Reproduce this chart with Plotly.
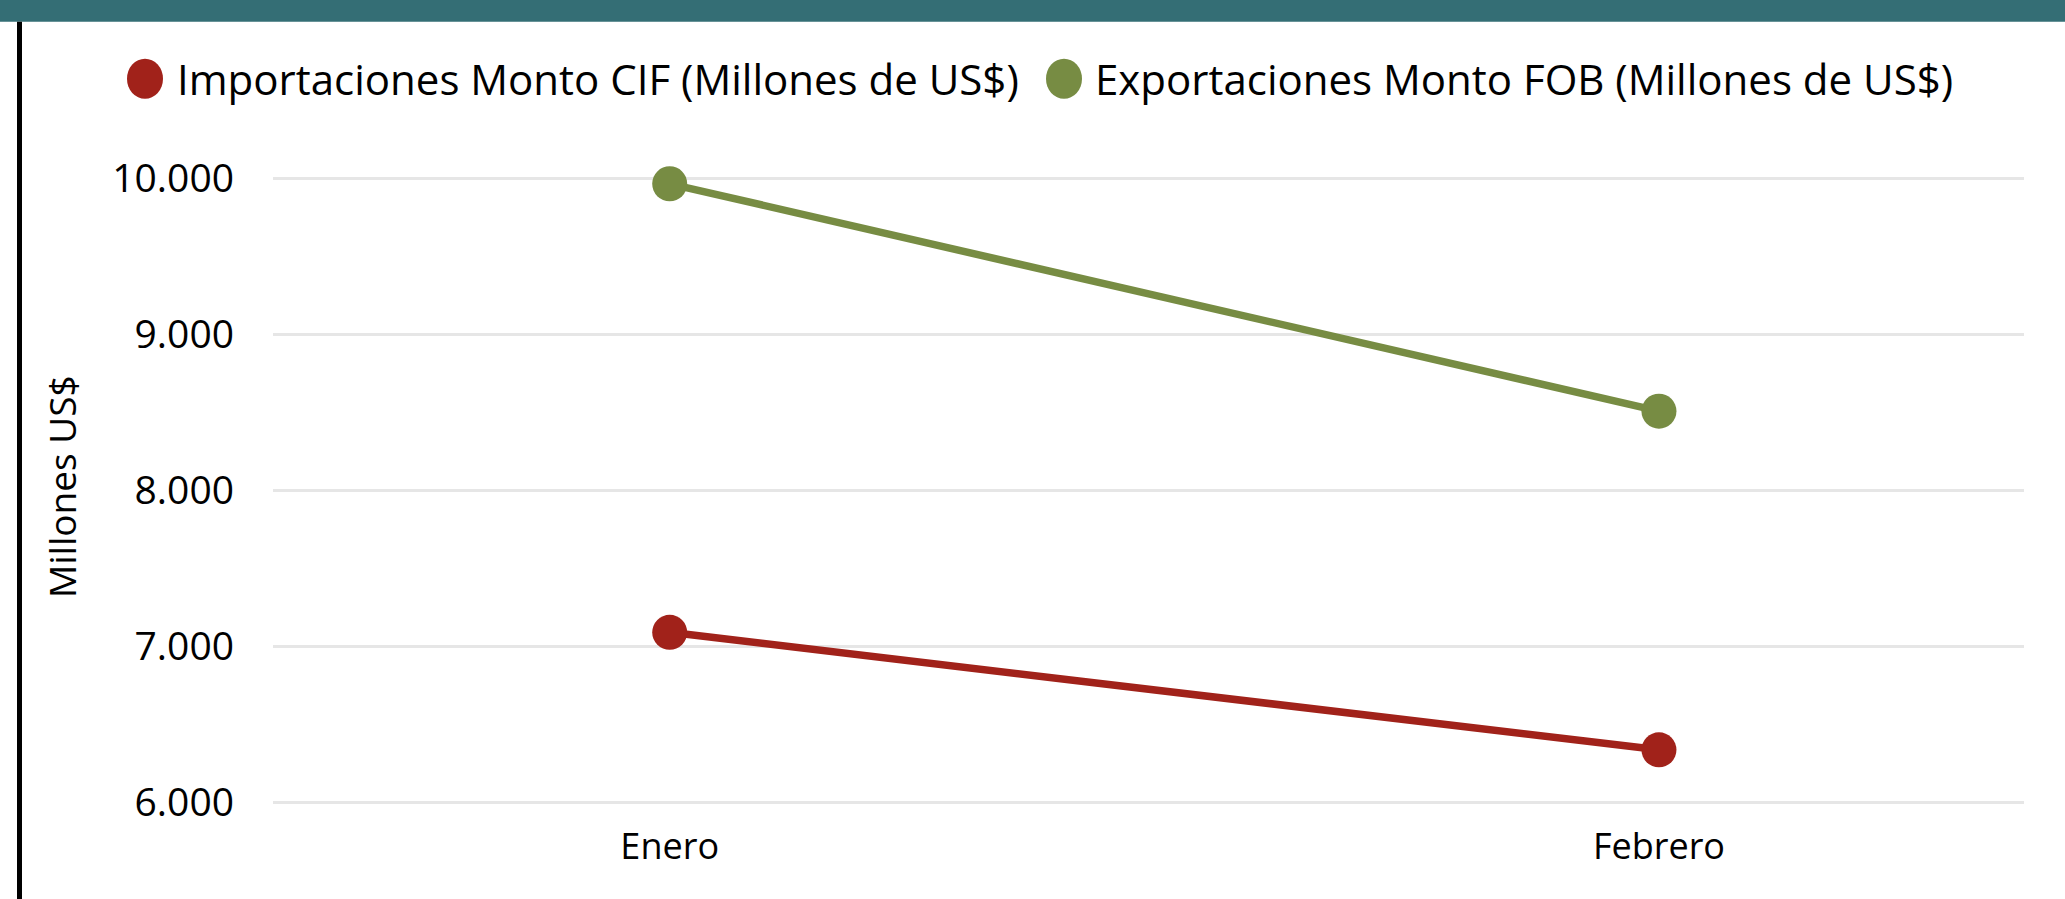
import plotly.graph_objects as go

# ---- data ----
meses = ["Enero", "Febrero"]
importaciones_cif = [7090, 6336]
exportaciones_fob = [9968, 8509]
serie_nombres = ["Importaciones Monto CIF (Millones de US$)",
                 "Exportaciones Monto FOB (Millones de US$)"]
y_ticks = [6000, 7000, 8000, 9000, 10000]

# ---- styles ----
W, H = 2065, 899
Y_LO, Y_HI = 5950, 10050
G_TOP, G_BOT = 179, 802          # pixel rows of 10000 and 6000 gridlines
PPU = (G_BOT - G_TOP) / 4000.0   # pixels per unit
T = G_TOP - (Y_HI - 10000) * PPU
B = G_BOT + (6000 - Y_LO) * PPU
L, R = 273, 2024
RED = "#A1221A"
GREEN = "#778C43"
TEAL = "#346E75"
FONT = "Open Sans"

def px(x):
    return (x - L) / (R - L)

def py(y):
    return (B - y) / (B - T)

fig = go.Figure()
fig.add_trace(go.Scatter(
    x=meses, y=importaciones_cif, mode="lines+markers", name=serie_nombres[0],
    line=dict(color=RED, width=7.5), marker=dict(color=RED, size=35, line=dict(width=0)),
    cliponaxis=False, showlegend=False))
fig.add_trace(go.Scatter(
    x=meses, y=exportaciones_fob, mode="lines+markers", name=serie_nombres[1],
    line=dict(color=GREEN, width=7.5), marker=dict(color=GREEN, size=35, line=dict(width=0)),
    cliponaxis=False, showlegend=False))

shapes = [
    # top teal band
    dict(type="rect", xref="paper", yref="paper", x0=px(-5), x1=px(W + 5), y0=py(22), y1=py(-5),
         fillcolor=TEAL, line=dict(width=0), layer="above"),
    # left black border
    dict(type="rect", xref="paper", yref="paper", x0=px(17), x1=px(22), y0=py(H + 5), y1=py(22),
         fillcolor="black", line=dict(width=0), layer="above"),
]
# manual legend
leg_items = [(145, 175, RED, serie_nombres[0]), (1064, 1093, GREEN, serie_nombres[1])]
annotations = []
for cx, tx, col, name in leg_items:
    rx, ry = 18, 20
    shapes.append(dict(type="circle", xref="paper", yref="paper",
                       x0=px(cx - rx), x1=px(cx + rx), y0=py(79 + ry), y1=py(79 - ry),
                       fillcolor=col, line=dict(width=0)))
    annotations.append(dict(xref="paper", yref="paper", x=px(tx), y=py(79), text=name,
                            showarrow=False, xanchor="left", yanchor="middle",
                            font=dict(family=FONT, size=42, color="black")))
# y axis title
annotations.append(dict(xref="paper", yref="paper", x=px(62), y=py(487), text="Millones US$",
                        textangle=-90, showarrow=False, xanchor="center", yanchor="middle",
                        font=dict(family=FONT, size=37, color="black")))

fig.update_layout(
    width=W, height=H,
    margin=dict(l=L, r=W - R, t=T, b=H - B, pad=0),
    paper_bgcolor="white", plot_bgcolor="white",
    separators=",.",
    shapes=shapes, annotations=annotations,
    xaxis=dict(type="category", range=[-0.401, 1.369], showgrid=False, showline=False,
               zeroline=False, ticks="", tickfont=dict(family=FONT, size=36, color="black"),
               ticklabelstandoff=12),
    yaxis=dict(range=[Y_LO, Y_HI], tickvals=y_ticks, tickformat=",.0f",
               showgrid=True, gridcolor="#E6E6E6", gridwidth=3, zeroline=False, showline=False,
               ticks="", tickfont=dict(family=FONT, size=39, color="black"),
               ticklabelstandoff=38),
)

fig.write_html("out.html", config={"displayModeBar": False},
               post_script="document.body.style.margin='0';document.body.style.overflow='hidden';")
